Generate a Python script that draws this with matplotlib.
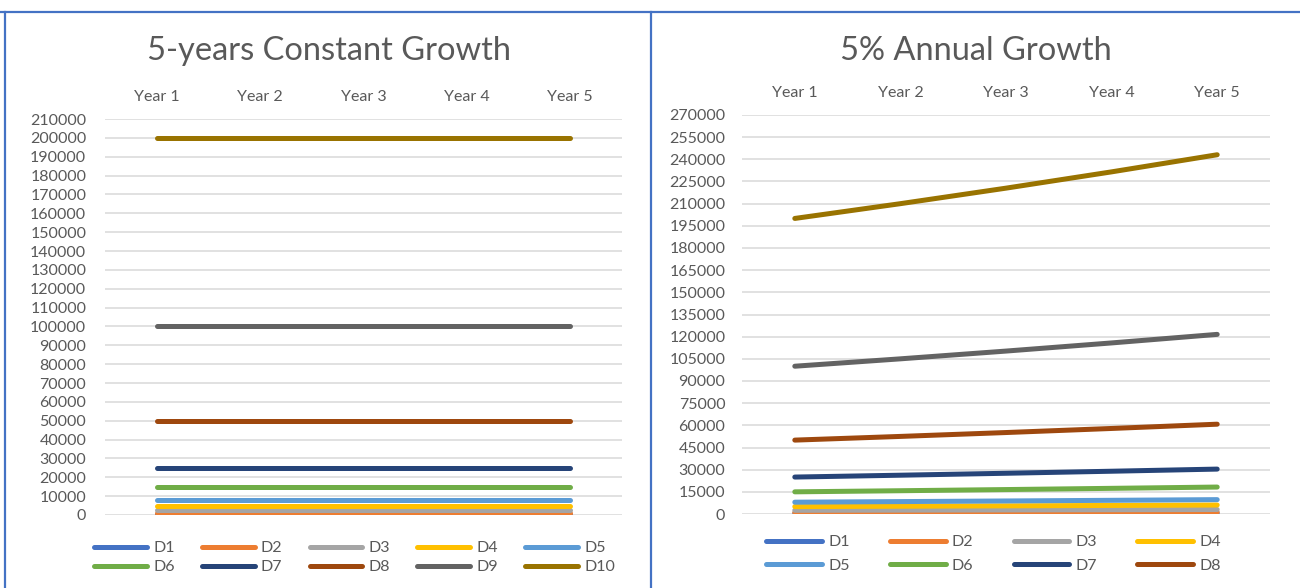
import matplotlib.pyplot as plt
from matplotlib.lines import Line2D

plt.rcParams['font.family'] = ['Lato', 'DejaVu Sans']

years = ['Year 1', 'Year 2', 'Year 3', 'Year 4', 'Year 5']
names = ['D1', 'D2', 'D3', 'D4', 'D5', 'D6', 'D7', 'D8', 'D9', 'D10']
colors = ['#4472C4', '#ED7D31', '#A5A5A5', '#FFC000', '#5B9BD5',
          '#70AD47', '#264478', '#9E480E', '#636363', '#997300']

# constant demand, same each year
constant = [
    [500, 500, 500, 500, 500],
    [1000, 1000, 1000, 1000, 1000],
    [2500, 2500, 2500, 2500, 2500],
    [5000, 5000, 5000, 5000, 5000],
    [8000, 8000, 8000, 8000, 8000],
    [15000, 15000, 15000, 15000, 15000],
    [25000, 25000, 25000, 25000, 25000],
    [50000, 50000, 50000, 50000, 50000],
    [100000, 100000, 100000, 100000, 100000],
    [200000, 200000, 200000, 200000, 200000],
]

# 5% growth per year
growth = [
    [500, 525, 551, 579, 608],
    [1000, 1050, 1103, 1158, 1216],
    [2500, 2625, 2756, 2894, 3039],
    [5000, 5250, 5513, 5788, 6078],
    [8000, 8400, 8820, 9261, 9724],
    [15000, 15750, 16538, 17364, 18233],
    [25000, 26250, 27563, 28941, 30388],
    [50000, 52500, 55125, 57881, 60775],
    [100000, 105000, 110250, 115763, 121551],
    [200000, 210000, 220500, 231525, 243101],
]

txt = '#595959'
grid = '#D9D9D9'
lw = 3.6

fig = plt.figure(figsize=(13, 5.88), dpi=100)

# panel frames
for seg in [([0, 1], [1 - 12 / 588] * 2), ([5 / 1300] * 2, [0, 1 - 12 / 588]),
            ([651 / 1300] * 2, [0, 1 - 12 / 588])]:
    fig.add_artist(Line2D(seg[0], seg[1], color='#4472C4', lw=1.6,
                          transform=fig.transFigure))


def row_major(items, ncol):
    # legend fills by column, so reorder to read across rows
    nrow = -(-len(items) // ncol)
    return [items[r * ncol + c] for c in range(ncol) for r in range(nrow)
            if r * ncol + c < len(items)]


def panel(rect, data, ymax, step, title, title_xy, ypad, nleg, ncol, leg_xy,
          hlen, cspace, lspace):
    ax = fig.add_axes(rect)
    x = range(len(years))
    handles = []
    for vals, c, n in zip(data, colors, names):
        h, = ax.plot(x, vals, color=c, lw=lw, solid_capstyle='round', label=n)
        handles.append(h)
    ax.set_xlim(-0.5, len(years) - 0.5)
    ax.set_ylim(0, ymax)
    ax.set_yticks(range(0, ymax + 1, step))
    ax.set_xticks(list(x))
    ax.set_xticklabels(years)
    ax.xaxis.tick_top()
    ax.tick_params(axis='x', length=0, pad=11, labelsize=11.5, labelcolor=txt)
    ax.tick_params(axis='y', length=0, pad=ypad, labelsize=11.5, labelcolor=txt)
    ax.grid(axis='y', color=grid, lw=1.1)
    ax.set_axisbelow(True)
    for s in ax.spines.values():
        s.set_visible(False)
    fig.text(title_xy[0], title_xy[1], title, ha='center', va='center',
             fontsize=23.5, color=txt)
    fig.legend(row_major(handles[:nleg], ncol), row_major(names[:nleg], ncol),
               ncol=ncol, loc='upper left', bbox_to_anchor=leg_xy,
               frameon=False, fontsize=11.5, labelcolor=txt, handlelength=hlen,
               handletextpad=0.4, columnspacing=cspace, labelspacing=lspace,
               borderpad=0)
    return ax


panel([105 / 1300, 1 - 515 / 588, 517 / 1300, 396 / 588], constant, 210000,
      10000, '5-years Constant Growth', (329 / 1300, 1 - 51 / 588), 13.5,
      10, 5, (86 / 1300, 1 - 533 / 588), 3.3, 1.7, 0.3)

panel([742 / 1300, 1 - 514 / 588, 528 / 1300, 399 / 588], growth, 270000,
      15000, '5% Annual Growth', (976 / 1300, 1 - 51 / 588), 12,
      8, 4, (758 / 1300, 1 - 527 / 588), 3.5, 2.5, 0.6)

plt.savefig('out.png')
